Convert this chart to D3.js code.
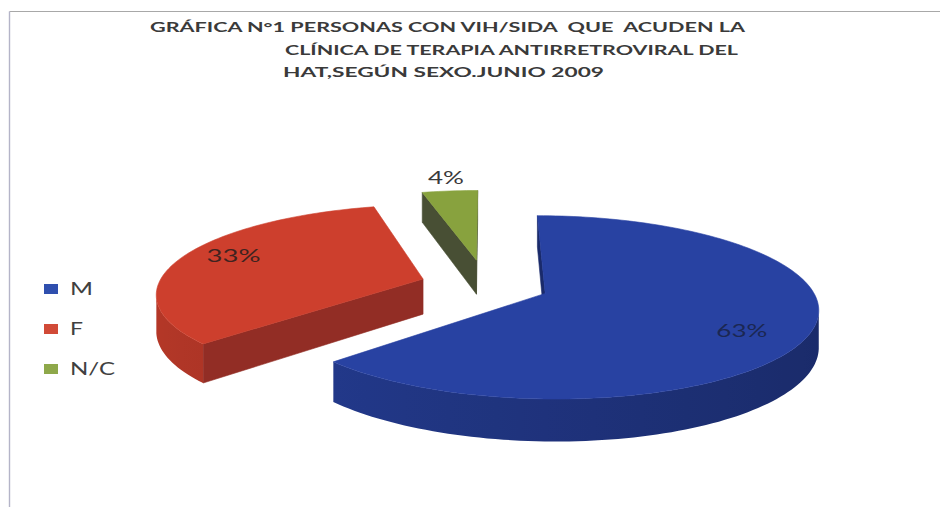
<!DOCTYPE html>
<html><head><meta charset="utf-8">
<script src="https://cdn.jsdelivr.net/npm/d3@7"></script>
<style>html,body{margin:0;padding:0;background:#fff;} svg{display:block;} text{white-space:pre;}</style>
</head><body>
<svg id="chart" width="940" height="507"></svg>
<script>
// ---- data ----
const categories = ["M", "F", "N/C"];
const values = [63, 33, 4];
const valueLabels = ["63%", "33%", "4%"];
const titleLines = [
  "GRÁFICA N°1 PERSONAS CON VIH/SIDA  QUE  ACUDEN LA",
  "CLÍNICA DE TERAPIA ANTIRRETROVIRAL DEL",
  "HAT,SEGÚN SEXO.JUNIO 2009"
];

// ---- styles / layout ----
const topColors = ["#2842a2", "#cd3f2d", "#88a23e"];
const cutColors = ["#1a2a6a", "#922d25", "#484f34"];
const legendColors = ["#2f4fae", "#d14a37", "#8ea84a"];
const explode = [0.24, 0.25, 0.30];
const labelStyle = [
  {r: 0.75, dx: 0, dy: 9, w: 51, fill: "#1b2752"},
  {r: 0.70, dx: -20, dy: -7, w: 54, fill: "#3f2320"},
  {r: 1.17, dx: 0, dy: -3, w: 36, fill: "#3a3a3a"}
];
const titleStyle = [
  {x: 150, y: 32, w: 595},
  {x: 285, y: 54.5, w: 453},
  {x: 283, y: 77, w: 321}
];
const legendText = [{w: 23}, {w: 13}, {w: 45}];

const svg = d3.select("#chart");
const defs = svg.append("defs");

// frame lines
svg.append("line").attr("x1", 9.5).attr("x2", 940).attr("y1", 11.5).attr("y2", 11.5)
  .attr("stroke", "#a8a8a8").attr("stroke-width", 1.2);
svg.append("line").attr("x1", 9.5).attr("x2", 9.5).attr("y1", 11.5).attr("y2", 507)
  .attr("stroke", "#b4b4c8").attr("stroke-width", 1.4);

// title
svg.append("g").selectAll("text").data(titleLines).join("text")
  .attr("x", (d, i) => titleStyle[i].x)
  .attr("y", (d, i) => titleStyle[i].y)
  .attr("textLength", (d, i) => titleStyle[i].w)
  .attr("lengthAdjust", "spacingAndGlyphs")
  .attr("font-family", "Lato, 'Open Sans', sans-serif")
  .attr("font-weight", "bold")
  .attr("font-size", 14)
  .attr("fill", "#3a3a3a")
  .text(d => d);

// ---- 3D pie projection ----
const X0 = 486, Y0 = 285, A = 265, B = 87, P = 0.15, DEPTH = 35.5;
const xs = d3.scaleLinear().domain([-1, 1]).range([X0 - A, X0 + A]);
const ys = d3.scaleLinear().domain([-1, 1]).range([Y0 + B, Y0 - B]);
function proj(u, v, z) {
  const f = 1 / (1 + P * v);
  return [xs(u * f), ys(v * f) + z * DEPTH * f];
}
const camV = -1 / P;

const arcs = d3.pie().sort(null).value(d => d)(values);
const line = d3.line();
const g = svg.append("g");

const slices = arcs.map((a, i) => {
  const mid = (a.startAngle + a.endAngle) / 2;
  const ox = explode[i] * Math.sin(mid), oy = explode[i] * Math.cos(mid);
  return {a, i, mid, ox, oy};
});
const order = d3.range(slices.length).sort((a, b) => slices[b].oy - slices[a].oy);

order.forEach(i => {
  const s = slices[i];
  const a0 = s.a.startAngle, a1 = s.a.endAngle;
  const n = Math.max(2, Math.ceil((a1 - a0) / (Math.PI / 120)));
  const angs = d3.range(n + 1).map(k => a0 + (a1 - a0) * k / n);
  const pt = (ang, r, z) => proj(s.ox + r * Math.sin(ang), s.oy + r * Math.cos(ang), z);
  const sg = g.append("g");
  const faces = [];
  // radial cut faces
  const nStart = [-Math.cos(a0), Math.sin(a0)];
  const nEnd = [Math.cos(a1), -Math.sin(a1)];
  [[a0, nStart], [a1, nEnd]].forEach(([ang, nn]) => {
    const vis = nn[0] * (0 - s.ox) + nn[1] * (camV - s.oy) > 0;
    if (vis) faces.push({pts: [pt(ang, 0, 0), pt(ang, 1, 0), pt(ang, 1, 1), pt(ang, 0, 1)], fill: cutColors[i], depth: s.oy + 0.5 * Math.cos(ang)});
  });
  // outer side: contiguous visible runs, one path each with a horizontal gradient
  const visible = angs.map(t => {
    const u = s.ox + Math.sin(t), v = s.oy + Math.cos(t);
    return Math.sin(t) * (0 - u) + Math.cos(t) * (camV - v) > -1e-9;
  });
  let runs = [], cur = null;
  angs.forEach((t, k) => {
    if (visible[k]) { if (!cur) { cur = []; runs.push(cur); } cur.push(t); }
    else cur = null;
  });
  runs.filter(r => r.length > 1).forEach((run, ri) => {
    const topP = run.map(t => pt(t, 1, 0));
    const botP = run.map(t => pt(t, 1, 1)).reverse();
    const xsP = topP.map(p => p[0]);
    const xmin = d3.min(xsP), xmax = d3.max(xsP);
    const gid = "side" + i + "_" + ri;
    const grad = defs.append("linearGradient").attr("id", gid)
      .attr("gradientUnits", "userSpaceOnUse")
      .attr("x1", xmin).attr("x2", xmax).attr("y1", 0).attr("y2", 0);
    const stops = run.filter((t, k) => k % 6 === 0 || k === run.length - 1)
      .map(t => ({off: (pt(t, 1, 0)[0] - xmin) / Math.max(1, xmax - xmin),
                  c: d3.color(topColors[i]).darker(0.35 + 0.85 * (1 + Math.sin(t)) / 2).formatHex()}))
      .sort((p, q) => p.off - q.off);
    grad.selectAll("stop").data(stops).join("stop")
      .attr("offset", d => d.off).attr("stop-color", d => d.c);
    const depth = d3.mean(run, t => s.oy + Math.cos(t));
    faces.push({pts: topP.concat(botP), fill: "url(#" + gid + ")", stroke: "none", depth});
  });
  faces.sort((p, q) => q.depth - p.depth);
  faces.forEach(f => {
    sg.append("path").attr("d", line(f.pts) + "Z").attr("fill", f.fill)
      .attr("stroke", f.stroke === "none" ? "none" : f.fill).attr("stroke-width", 0.6)
      .attr("stroke-linejoin", "round");
  });
  // top face
  const topPts = [pt(0, 0, 0)].concat(angs.map(t => pt(t, 1, 0)));
  sg.append("path").attr("d", line(topPts) + "Z").attr("fill", topColors[i])
    .attr("stroke", topColors[i]).attr("stroke-width", 0.6);
});

// value labels
slices.forEach(s => {
  const st = labelStyle[s.i];
  const p = proj(s.ox + st.r * Math.sin(s.mid), s.oy + st.r * Math.cos(s.mid), 0);
  svg.append("text")
    .attr("x", p[0] + st.dx - st.w / 2)
    .attr("y", p[1] + st.dy)
    .attr("dy", "0.36em")
    .attr("textLength", st.w)
    .attr("lengthAdjust", "spacingAndGlyphs")
    .attr("font-family", "Lato, 'Open Sans', sans-serif")
    .attr("font-size", 18)
    .attr("fill", st.fill)
    .text(valueLabels[s.i]);
});

// legend
const ly = d3.scalePoint().domain(categories).range([289, 369]);
const lg = svg.append("g");
lg.selectAll("rect").data(categories).join("rect")
  .attr("x", 44).attr("y", d => ly(d) - 5).attr("width", 14).attr("height", 10)
  .attr("fill", (d, i) => legendColors[i]);
lg.selectAll("text").data(categories).join("text")
  .attr("x", 70).attr("y", d => ly(d) + 6)
  .attr("textLength", (d, i) => legendText[i].w)
  .attr("lengthAdjust", "spacingAndGlyphs")
  .attr("font-family", "Lato, 'Open Sans', sans-serif")
  .attr("font-size", 17)
  .attr("fill", "#404040")
  .text(d => d);
</script>
</body></html>
